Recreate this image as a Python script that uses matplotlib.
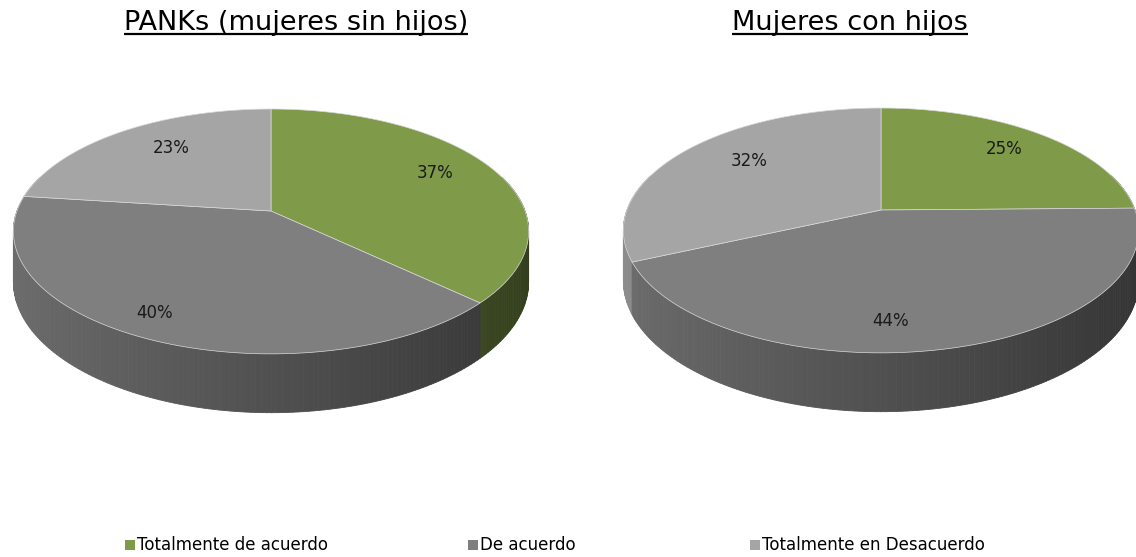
import numpy as np
import matplotlib.pyplot as plt
from matplotlib.patches import Polygon, Rectangle

categorias = ['Totalmente de acuerdo', 'De acuerdo', 'Totalmente en Desacuerdo']
sin_hijos = [37, 40, 23]
con_hijos = [25, 44, 32]
titulos = ['PANKs (mujeres sin hijos)', 'Mujeres con hijos']
colores = ['#7F9A48', '#7F7F7F', '#A5A5A5']

W, H = 1136, 557
RX, RY, P, D = 254, 119, 0.167, 49   # elipse, perspectiva, grosor


def proyectar(cx, cy, t, r=1.0, z=0.0):
    # t en radianes, sentido horario desde arriba
    X = r * np.sin(t)
    Y = r * np.cos(t)
    k = 1.0 / (1.0 + P * Y)
    return cx + RX * X * k, cy - RY * Y * k + D * z * k


def oscurecer(color, f):
    rgb = np.array(plt.matplotlib.colors.to_rgb(color))
    return tuple(rgb * f)


def pie_3d(ax, cx, cy, valores):
    fr = np.array(valores, dtype=float) / sum(valores)
    bordes = np.concatenate([[0], np.cumsum(fr)]) * 2 * np.pi

    # paredes laterales (de atrás hacia adelante)
    paredes = []
    for i in range(len(valores)):
        t0, t1 = bordes[i], bordes[i + 1]
        n = max(2, int(np.degrees(t1 - t0)) + 2)
        ts = np.linspace(t0, t1, n)
        for a, b in zip(ts[:-1], ts[1:]):
            m = (a + b) / 2
            if np.cos(m) > 0.3:
                continue
            quad = [proyectar(cx, cy, a), proyectar(cx, cy, b),
                    proyectar(cx, cy, b, z=1), proyectar(cx, cy, a, z=1)]
            f = 0.86 - 0.46 * (np.sin(m) + 1) / 2
            paredes.append((np.cos(m), quad, oscurecer(colores[i], f)))
    paredes.sort(key=lambda p: -p[0])
    for _, quad, c in paredes:
        ax.add_patch(Polygon(quad, closed=True, facecolor=c, edgecolor=c, lw=0.6))

    # caras superiores
    for i in range(len(valores)):
        t0, t1 = bordes[i], bordes[i + 1]
        ts = np.linspace(t0, t1, 200)
        pts = [(cx, cy)] + [proyectar(cx, cy, t) for t in ts]
        ax.add_patch(Polygon(pts, closed=True, facecolor=colores[i],
                             edgecolor='#d8d8d8', lw=0.5))

    # etiquetas
    for i in range(len(valores)):
        m = (bordes[i] + bordes[i + 1]) / 2
        x, y = proyectar(cx, cy, m, r=0.7)
        if np.cos(m) < 0:
            y += D * 0.4 * (-np.cos(m))
            x -= 35 * (-np.cos(m))
        else:
            y -= 6
            x += 8
        ax.text(x, y, f'{valores[i]}%', ha='center', va='center',
                fontsize=12, color='#1a1a1a')


fig = plt.figure(figsize=(W / 100, H / 100), dpi=100)
ax = fig.add_axes([0, 0, 1, 1])
ax.set_xlim(0, W)
ax.set_ylim(H, 0)
ax.axis('off')

pie_3d(ax, 271, 211, sin_hijos)
pie_3d(ax, 881, 210, con_hijos)

# títulos subrayados
tit = []
for x, t in zip([296, 850], titulos):
    tit.append(ax.text(x, 30, t, ha='center', va='baseline', fontsize=19.5, color='black'))

# leyenda inferior
for x, c, lab in zip([125, 468, 750], colores, categorias):
    ax.add_patch(Rectangle((x, 540), 10, 10, facecolor=c, edgecolor='none'))
    ax.text(x + 12, 545, lab, ha='left', va='center', fontsize=12, color='black')

fig.canvas.draw()
for t in tit:
    bb = t.get_window_extent()
    ax.plot([bb.x0, bb.x1], [34, 34], color='black', lw=1.6, solid_capstyle='butt')

fig.savefig('out.png', dpi=100)
